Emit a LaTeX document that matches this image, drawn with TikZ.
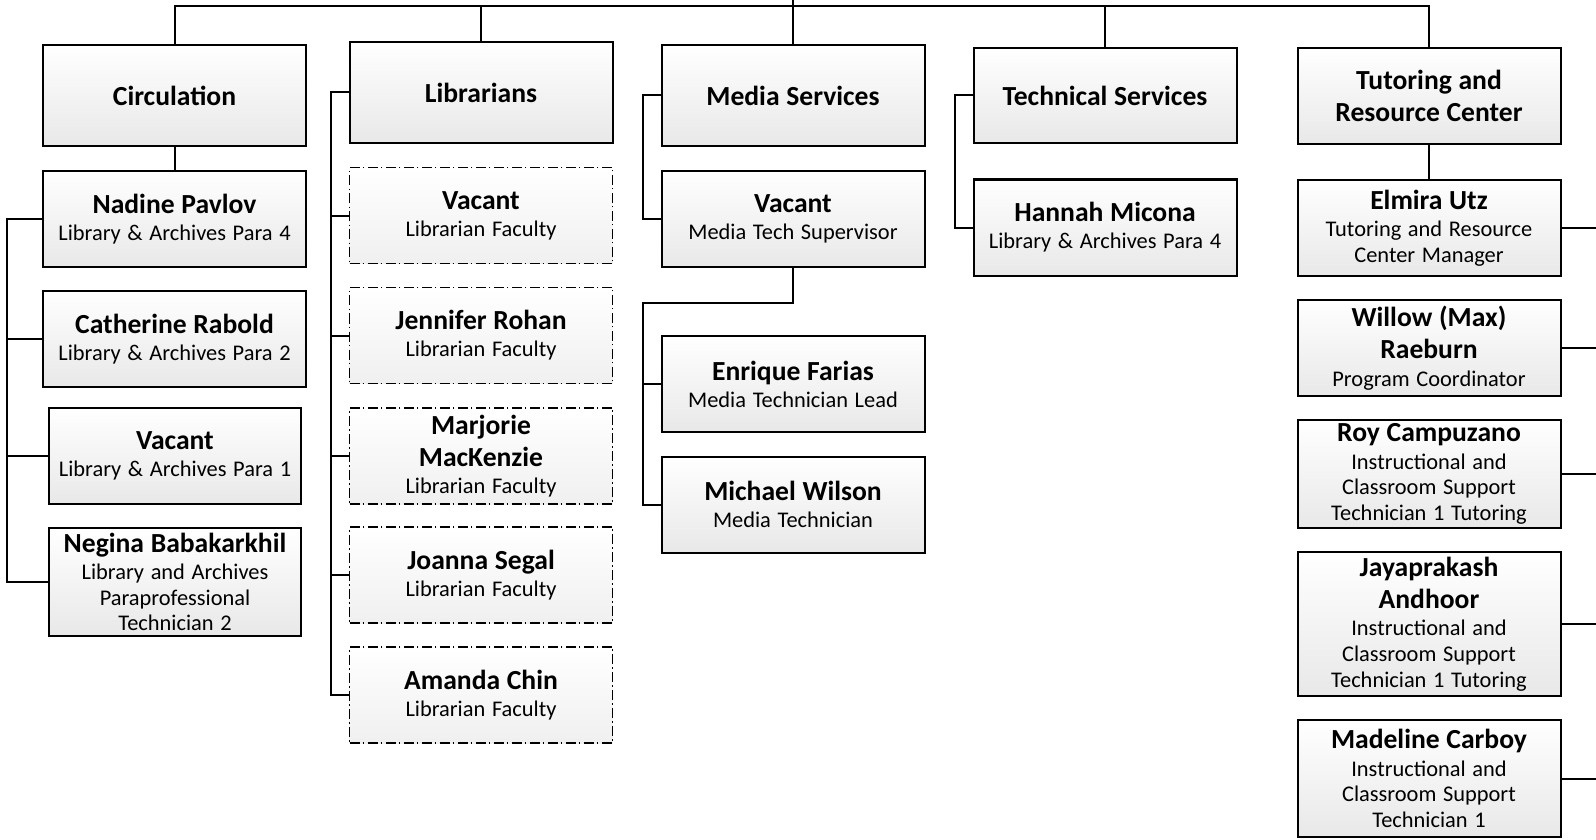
\documentclass[tikz,border=0pt]{standalone}
\usepackage{fontspec}
\setmainfont{Carlito}
\newcommand\namefont{\fontsize{13.8pt}{16.2pt}\selectfont\bfseries}
\newcommand\jobfont{\fontsize{11.2pt}{12.8pt}\selectfont}
\newcommand\who[2]{{\namefont #1\par}\vspace{.8pt}{\jobfont #2\par}}
\newcommand\dept[1]{{\namefont #1\par}}
\tikzset{line width=1pt,
  unit/.style={draw,line width=1pt,minimum width=131.5pt,minimum height=48pt,
    text width=129pt,inner xsep=0pt,inner ysep=0pt,align=center,
    top color=white,bottom color=black!9},
  narrow/.style={minimum width=126pt,text width=124pt},
  faculty/.style={unit,line width=.85pt,
    dash pattern=on 5pt off 1.6pt on .8pt off 1.6pt,bottom color=black!6}}

\begin{document}
\begin{tikzpicture}[x=.5pt,y=-.5pt,line width=1pt]
\useasboundingbox (0,0) rectangle (1596,840);
% departments
\node[unit,minimum height=50.5pt] (circ)  at (174.5,95.5) {\dept{Circulation}};
\node[unit,minimum height=50.5pt] (lib)   at (481,92.5)   {\dept{Librarians}};
\node[unit,minimum height=50.5pt] (media) at (793,95.5)   {\dept{Media Services}};
\node[unit,minimum height=47.5pt] (tech)  at (1105,95.5)  {\dept{Technical Services}};
\node[unit] (trc) at (1429,96) {\dept{Tutoring and\\Resource Center}};
% circulation
\node[unit] (nadine) at (174.5,219) {\who{Nadine Pavlov}{Library \& Archives Para 4}};
\node[unit] (cath)   at (174.5,339) {\who{Catherine Rabold}{Library \& Archives Para 2}};
\node[unit,narrow] (vacc) at (175,456) {\who{Vacant}{Library \& Archives Para 1}};
\node[unit,narrow,minimum height=54pt] (negina) at (175,582)
  {\who{Negina Babakarkhil}{Library and Archives\\Paraprofessional\\Technician 2}};
% librarians
\node[faculty] (vacl)   at (481,215.5) {\who{Vacant}{Librarian Faculty}};
\node[faculty] (jen)    at (481,335.5) {\who{Jennifer Rohan}{Librarian Faculty}};
\node[faculty] (marj)   at (481,456)   {\who{Marjorie\\MacKenzie}{Librarian Faculty}};
\node[faculty] (joanna) at (481,575)   {\who{Joanna Segal}{Librarian Faculty}};
\node[faculty] (amanda) at (481,695)   {\who{Amanda Chin}{Librarian Faculty}};
% media
\node[unit] (vacm)    at (793,219)   {\who{Vacant}{Media Tech Supervisor}};
\node[unit] (enrique) at (793,384)   {\who{Enrique Farias}{Media Technician Lead}};
\node[unit] (michael) at (793,504.5) {\who{Michael Wilson}{Media Technician}};
% technical
\node[unit] (hannah) at (1105,227.5) {\who{Hannah Micona}{Library \& Archives Para 4}};
% tutoring
\node[unit] (elmira) at (1429,228) {\who{Elmira Utz}{Tutoring and Resource\\Center Manager}};
\node[unit] (willow) at (1429,348) {\who{Willow (Max)\\Raeburn}{Program Coordinator}};
\node[unit,minimum height=54pt] (roy) at (1429,474)
  {\who{Roy Campuzano}{Instructional and\\Classroom Support\\Technician 1 Tutoring}};
\node[unit,minimum height=72pt] (jay) at (1429,624)
  {\who{Jayaprakash\\Andhoor}{Instructional and\\Classroom Support\\Technician 1 Tutoring}};
\node[unit,minimum height=58.5pt] (madeline) at (1429,778.5)
  {\who{Madeline Carboy}{Instructional and\\Classroom Support\\Technician 1}};

% connectors
\coordinate (up) at (793,0);
\coordinate (bus) at (793,6);
\coordinate (circbar) at (7,0);
\coordinate (libbar) at (331,0);
\coordinate (medbar) at (643,0);
\coordinate (medbend) at (643,303);
\coordinate (techbar) at (955,0);
\coordinate (edge) at (1596,0);
\draw (circ.north) |- (bus) -| (trc.north);
\draw (up) -- (media.north);
\foreach \d in {lib,tech} \draw (\d.north) -- (\d.north |- bus);
\draw (circ.south) -- (nadine.north);
\draw (nadine.west) -| (circbar |- negina.west) -- (negina.west);
\foreach \n in {cath,vacc} \draw (\n.west) -- (\n.west -| circbar);
\draw (lib.west) -| (libbar |- amanda.west) -- (amanda.west);
\foreach \n in {vacl,jen,marj,joanna} \draw (\n.west) -- (\n.west -| libbar);
\draw (media.west) -| (medbar |- vacm.west) -- (vacm.west);
\draw (vacm.south) |- (medbend) |- (michael.west);
\draw (enrique.west) -- (enrique.west -| medbend);
\draw (tech.west) -| (techbar |- hannah.west) -- (hannah.west);
\draw (trc.south) -- (elmira.north);
\foreach \n in {elmira,willow,roy,jay,madeline} \draw (\n.east) -- (\n.east -| edge);
\end{tikzpicture}
\end{document}
